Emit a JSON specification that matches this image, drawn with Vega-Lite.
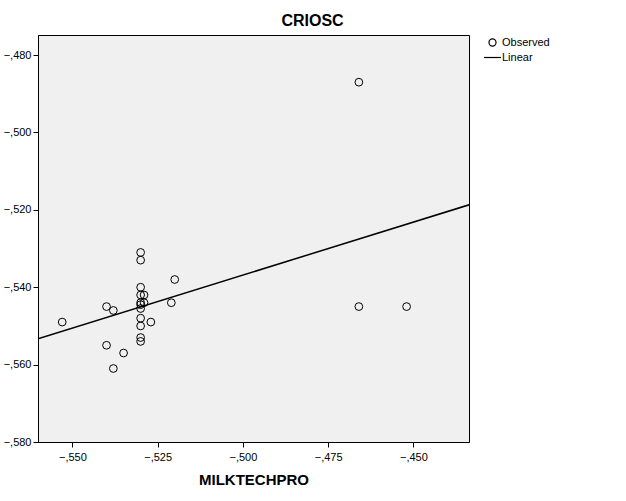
{
  "$schema": "https://vega.github.io/schema/vega-lite/v6.json",
  "autosize": {"type": "none"},
  "padding": {"left": 38, "top": 35, "right": 157, "bottom": 59},
  "width": 431,
  "height": 407,
  "background": "white",
  "title": {"text": "CRIOSC", "font": "Liberation Sans", "fontSize": 16, "fontWeight": "bold", "color": "black", "offset": 6, "dx": 59},
  "config": {
    "view": {"fill": "#f0f0f0", "stroke": "#000000", "strokeWidth": 1},
    "axis": {"grid": false, "labelFont": "Liberation Sans", "labelFontSize": 11, "labelColor": "#000", "tickColor": "#000", "domainColor": "#000", "tickSize": 5, "titleFont": "Liberation Sans", "titleColor": "#000"},
    "legend": {"labelFont": "Liberation Sans", "labelFontSize": 11, "labelColor": "#000"}
  },
  "datasets": {
    "obs": [
      {"MILKTECHPRO": -0.553, "CRIOSC": -0.549, "series": "Observed"},
      {"MILKTECHPRO": -0.540, "CRIOSC": -0.545, "series": "Observed"},
      {"MILKTECHPRO": -0.538, "CRIOSC": -0.546, "series": "Observed"},
      {"MILKTECHPRO": -0.540, "CRIOSC": -0.555, "series": "Observed"},
      {"MILKTECHPRO": -0.535, "CRIOSC": -0.557, "series": "Observed"},
      {"MILKTECHPRO": -0.538, "CRIOSC": -0.561, "series": "Observed"},
      {"MILKTECHPRO": -0.530, "CRIOSC": -0.531, "series": "Observed"},
      {"MILKTECHPRO": -0.530, "CRIOSC": -0.533, "series": "Observed"},
      {"MILKTECHPRO": -0.530, "CRIOSC": -0.540, "series": "Observed"},
      {"MILKTECHPRO": -0.530, "CRIOSC": -0.542, "series": "Observed"},
      {"MILKTECHPRO": -0.530, "CRIOSC": -0.544, "series": "Observed"},
      {"MILKTECHPRO": -0.530, "CRIOSC": -0.5445, "series": "Observed"},
      {"MILKTECHPRO": -0.530, "CRIOSC": -0.5455, "series": "Observed"},
      {"MILKTECHPRO": -0.530, "CRIOSC": -0.548, "series": "Observed"},
      {"MILKTECHPRO": -0.530, "CRIOSC": -0.550, "series": "Observed"},
      {"MILKTECHPRO": -0.530, "CRIOSC": -0.553, "series": "Observed"},
      {"MILKTECHPRO": -0.530, "CRIOSC": -0.554, "series": "Observed"},
      {"MILKTECHPRO": -0.529, "CRIOSC": -0.542, "series": "Observed"},
      {"MILKTECHPRO": -0.529, "CRIOSC": -0.544, "series": "Observed"},
      {"MILKTECHPRO": -0.527, "CRIOSC": -0.549, "series": "Observed"},
      {"MILKTECHPRO": -0.520, "CRIOSC": -0.538, "series": "Observed"},
      {"MILKTECHPRO": -0.521, "CRIOSC": -0.544, "series": "Observed"},
      {"MILKTECHPRO": -0.466, "CRIOSC": -0.487, "series": "Observed"},
      {"MILKTECHPRO": -0.466, "CRIOSC": -0.545, "series": "Observed"},
      {"MILKTECHPRO": -0.452, "CRIOSC": -0.545, "series": "Observed"}
    ],
    "fit": [
      {"MILKTECHPRO": -0.5601, "CRIOSC": -0.5533},
      {"MILKTECHPRO": -0.4337, "CRIOSC": -0.5187}
    ]
  },
  "layer": [
    {
      "data": {"name": "fit"},
      "mark": {"type": "line", "color": "#000", "strokeWidth": 1.5, "clip": true},
      "encoding": {
        "x": {"field": "MILKTECHPRO", "type": "quantitative"},
        "y": {"field": "CRIOSC", "type": "quantitative"}
      }
    },
    {
      "data": {"name": "obs"},
      "mark": {"type": "point", "filled": false, "stroke": "#000", "strokeWidth": 1, "size": 60, "opacity": 1},
      "encoding": {
        "x": {
          "field": "MILKTECHPRO", "type": "quantitative",
          "scale": {"domain": [-0.5601, -0.4337], "nice": false, "zero": false},
          "axis": {"values": [-0.55, -0.525, -0.5, -0.475, -0.45], "labelExpr": "replace(format(datum.value, '.3f'), '0.', ',')", "title": "MILKTECHPRO", "titleFontSize": 15, "titleFontWeight": "bold", "titlePadding": 10, "labelPadding": 4}
        },
        "y": {
          "field": "CRIOSC", "type": "quantitative",
          "scale": {"domain": [-0.58, -0.4748], "nice": false, "zero": false},
          "axis": {"values": [-0.58, -0.56, -0.54, -0.52, -0.5, -0.48], "labelExpr": "replace(format(datum.value, '.3f'), '0.', ',')", "title": null, "labelPadding": 2}
        },
        "shape": {
          "field": "series", "type": "nominal",
          "scale": {"domain": ["Observed", "Linear"], "range": ["circle", "M-2.4,0L2.4,0"]},
          "legend": {"title": null, "orient": "right", "offset": 16, "padding": 2, "symbolFillColor": "transparent", "symbolStrokeColor": "#000", "symbolStrokeWidth": 1.2, "symbolSize": 50, "rowPadding": 2, "labelOffset": 4}
        }
      }
    }
  ]
}
